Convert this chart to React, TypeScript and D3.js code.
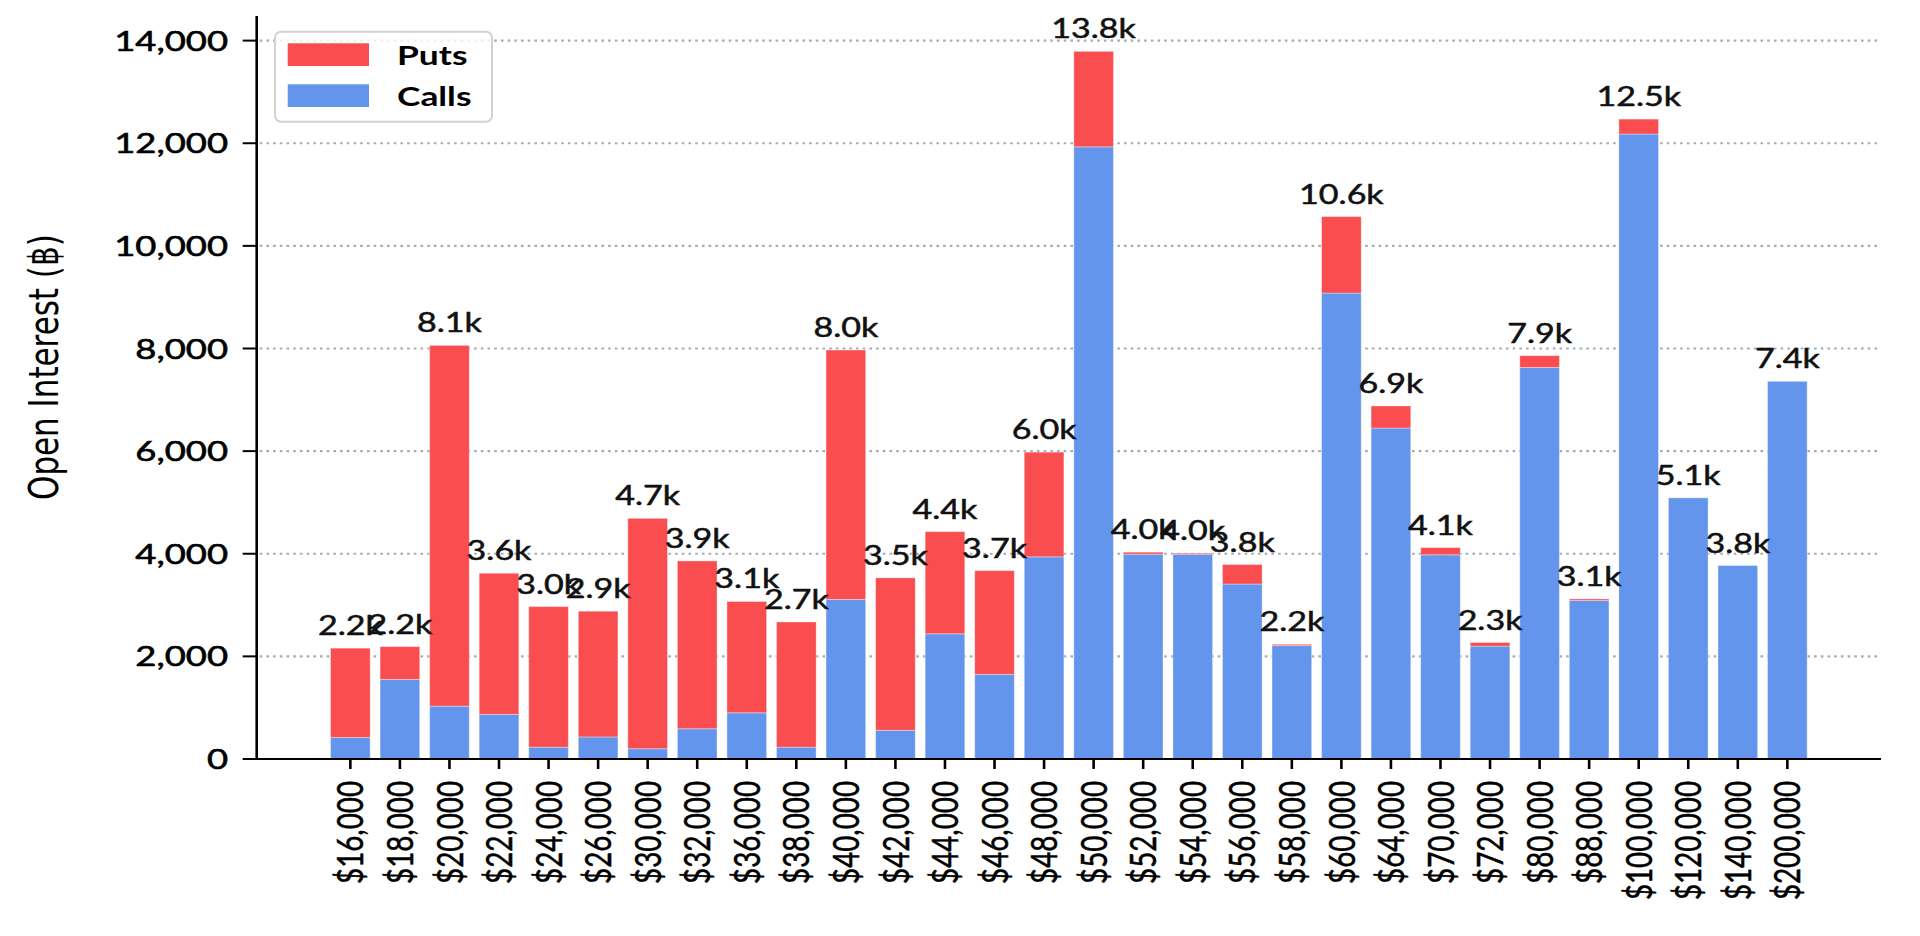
import React from "react";
import * as d3 from "d3";

const strikes = [
  "$16,000", "$18,000", "$20,000", "$22,000", "$24,000", "$26,000", "$30,000", "$32,000",
  "$36,000", "$38,000", "$40,000", "$42,000", "$44,000", "$46,000", "$48,000", "$50,000",
  "$52,000", "$54,000", "$56,000", "$58,000", "$60,000", "$64,000", "$70,000", "$72,000",
  "$80,000", "$88,000", "$100,000", "$120,000", "$140,000", "$200,000",
];
const calls = [
  420, 1550, 1030, 870, 230, 430, 200, 590, 900, 230, 3110, 560, 2440, 1650, 3940, 11930,
  3990, 3990, 3410, 2210, 9080, 6450, 3980, 2200, 7630, 3090, 12180, 5090, 3770, 7360,
];
const puts = [
  1740, 640, 7030, 2750, 2740, 2450, 4490, 3270, 2170, 2440, 4860, 2970, 1990, 2020, 2040, 1860,
  40, 20, 380, 25, 1490, 430, 140, 70, 230, 30, 290, 0, 0, 0,
];
const yTicks = [0, 2000, 4000, 6000, 8000, 10000, 12000, 14000];
const seriesNames = ["Puts", "Calls"];
const yLabel = "Open Interest (\u0E3F)";

const W = 1920;
const H = 936;
const SX = 1.31;
const LEFT = 256.7;
const RIGHT = 1881;
const TOP = 16;
const BOTTOM = 759;
const RED = "#fa4d4f";
const BLUE = "#6495ed";
const LATO = "Lato, 'Noto Sans', sans-serif";
const DEJAVU = "'DejaVu Sans', sans-serif";

export default function App() {
  const n = strikes.length;
  const totals = calls.map((c, i) => c + puts[i]);
  const span = n - 1 + 0.8;
  const x = d3
    .scaleLinear()
    .domain([-0.4 - 0.05 * span, n - 1 + 0.4 + 0.05 * span])
    .range([LEFT, RIGHT]);
  const y = d3
    .scaleLinear()
    .domain([0, (d3.max(totals) as number) * 1.05])
    .range([BOTTOM, TOP]);
  const bw = x(0.8) - x(0);
  const fmt = d3.format(",");
  const tr = (tx: number, ty: number, rot?: number) =>
    `translate(${tx},${ty}) scale(${SX},1)${rot ? ` rotate(${rot})` : ""}`;

  return (
    <svg
      width={W}
      height={H}
      style={{ position: "fixed", left: 0, top: 0, background: "#fff" }}
    >
      <rect x={0} y={0} width={W} height={H} fill="#fff" />
      {/* grid */}
      {yTicks.map((t) => (
        <line
          key={"g" + t}
          x1={LEFT + 3}
          x2={RIGHT}
          y1={y(t)}
          y2={y(t)}
          stroke="#a3acb6"
          strokeWidth={2.2}
          strokeDasharray="2.6 4.1"
        />
      ))}
      {/* bars */}
      {strikes.map((s, i) => (
        <g key={"b" + s}>
          <rect
            x={x(i) - bw / 2}
            y={y(calls[i])}
            width={bw}
            height={y(0) - y(calls[i])}
            fill={BLUE}
            stroke="#ffffff"
            strokeOpacity={0.35}
            strokeWidth={1}
          />
          {puts[i] > 0 && (
            <rect
              x={x(i) - bw / 2}
              y={y(totals[i])}
              width={bw}
              height={y(calls[i]) - y(totals[i])}
              fill={RED}
              stroke="#ffffff"
              strokeOpacity={0.35}
              strokeWidth={1}
            />
          )}
        </g>
      ))}
      {/* bar labels */}
      {strikes.map((s, i) => (
        <text
          key={"l" + s}
          transform={tr(x(i), y(totals[i]) - 13)}
          textAnchor="middle"
          fontFamily={LATO}
          fontSize={26}
          fill="#111"
          stroke="#111"
          strokeWidth={0.5}
        >
          {(totals[i] / 1000).toFixed(1) + "k"}
        </text>
      ))}
      {/* axes */}
      <line x1={LEFT} x2={RIGHT} y1={BOTTOM} y2={BOTTOM} stroke="#000" strokeWidth={2} />
      <line x1={LEFT} x2={LEFT} y1={TOP} y2={BOTTOM + 1} stroke="#000" strokeWidth={2.6} />
      {yTicks.map((t) => (
        <g key={"yt" + t}>
          <line x1={LEFT - 14} x2={LEFT} y1={y(t)} y2={y(t)} stroke="#000" strokeWidth={2} />
          <text
            transform={tr(228, y(t))}
            dy="0.36em"
            textAnchor="end"
            fontFamily={LATO}
            fontSize={27.8}
            fill="#000"
            stroke="#000"
            strokeWidth={0.6}
          >
            {fmt(t)}
          </text>
        </g>
      ))}
      {strikes.map((s, i) => (
        <g key={"xt" + s}>
          <line x1={x(i)} x2={x(i)} y1={BOTTOM} y2={BOTTOM + 10} stroke="#000" strokeWidth={2.6} />
          <text
            transform={tr(x(i), 781, -90)}
            dy="0.36em"
            textAnchor="end"
            fontFamily={LATO}
            fontSize={27.8}
            fill="#000"
            stroke="#000"
            strokeWidth={0.4}
          >
            {s}
          </text>
        </g>
      ))}
      <text
        transform={tr(43, 500, -90)}
        dy="0.36em"
        textAnchor="start"
        fontFamily={DEJAVU}
        fontSize={31}
        fill="#000"
      >
        {yLabel}
      </text>
      {/* legend */}
      <rect
        x={275}
        y={31.7}
        width={217}
        height={90}
        rx={6}
        ry={6}
        fill="#fff"
        fillOpacity={0.8}
        stroke="#d2d2d2"
        strokeWidth={2}
      />
      {seriesNames.map((name, k) => (
        <g key={"lg" + name}>
          <rect x={287.7} y={43.3 + k * 41} width={81.3} height={22.7} fill={k === 0 ? RED : BLUE} />
          <text
            transform={tr(397, 65 + k * 41)}
            fontFamily={LATO}
            fontWeight="bold"
            fontSize={27}
            fill="#000"
          >
            {name}
          </text>
        </g>
      ))}
    </svg>
  );
}
